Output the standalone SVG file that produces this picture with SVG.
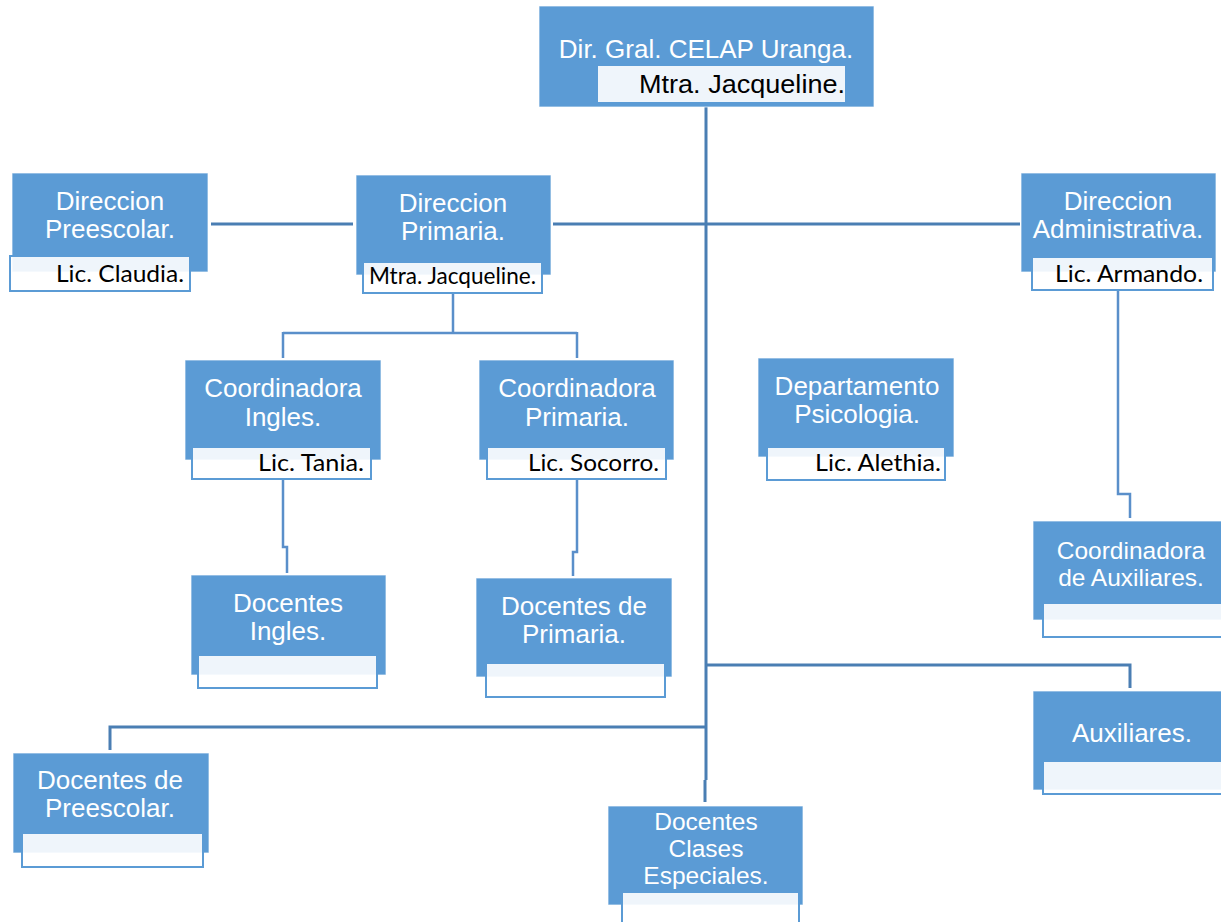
<svg xmlns="http://www.w3.org/2000/svg" width="1221" height="922" viewBox="0 0 1221 922">
<style>
.box{fill:#5B9BD5;stroke:#ffffff;stroke-opacity:0.7;stroke-width:1}
.sub{fill:#ffffff;fill-opacity:0.9;stroke:#5B9BD5;stroke-width:2}
.main{font-family:"Liberation Sans",Arial,sans-serif;font-size:26px;fill:#ffffff;text-anchor:middle}
.sm{font-size:24.5px}
.top2{font-family:"Liberation Sans",Arial,sans-serif;font-size:26px;fill:#000000;text-anchor:end}
.lbl{font-family:Lato,"Open Sans",sans-serif;font-size:23px;fill:#000000}
.c{fill:none;stroke:#4A7EB3;stroke-width:3}
.c2{fill:none;stroke:#5A8FCA;stroke-width:2.5}
</style>
<rect width="1221" height="922" fill="#ffffff"/>
<g id="connectors">
<path class="c" d="M706,107 V780 M705,780 V802"/>
<path class="c" d="M553,224 H706" stroke-width="4"/>
<path class="c" d="M706,224 H1020"/>
<path class="c" d="M211,224 H353" stroke-width="3.5"/>
<path class="c2" d="M453,293 V333 M283,333 H577 M283,332 V358 M577,332 V358"/>
<path class="c2" d="M283,480 V547 H287 V573"/>
<path class="c2" d="M577,480 V552 H573 V576"/>
<path class="c2" d="M1118,290 V494 H1130 V518"/>
<path class="c" d="M706,665 H1130 V688"/>
<path class="c" d="M706,727 H110 V750"/>
</g>
<g id="n-top">
<rect class="box" x="539" y="6" width="335" height="101"/>
<rect class="sub" x="597" y="65" width="249" height="38"/>
<text class="main" x="706" y="58">Dir. Gral. CELAP Uranga.</text>
<text class="top2" x="845" y="93" textLength="206" lengthAdjust="spacingAndGlyphs">Mtra. Jacqueline.</text>
</g>
<g id="n-preescolar">
<rect class="box" x="12" y="173" width="196" height="99"/>
<rect class="sub" x="10" y="256" width="180" height="35"/>
<text class="main" x="110" y="210">Direccion</text>
<text class="main" x="110" y="238">Preescolar.</text>
<text class="lbl" x="56" y="282" textLength="128" lengthAdjust="spacingAndGlyphs">Lic. Claudia.</text>
</g>
<g id="n-primaria">
<rect class="box" x="356" y="175" width="195" height="100"/>
<rect class="sub" x="363" y="262" width="179" height="31"/>
<text class="main" x="453" y="212">Direccion</text>
<text class="main" x="453" y="240">Primaria.</text>
<text class="lbl" x="369" y="284" font-size="20" textLength="167" lengthAdjust="spacingAndGlyphs">Mtra. Jacqueline.</text>
</g>
<g id="n-administrativa">
<rect class="box" x="1021" y="173" width="195" height="99"/>
<rect class="sub" x="1032" y="257" width="181" height="33"/>
<text class="main" x="1118" y="210">Direccion</text>
<text class="main" x="1118" y="238">Administrativa.</text>
<text class="lbl" x="1055" y="282" textLength="148" lengthAdjust="spacingAndGlyphs">Lic. Armando.</text>
</g>
<g id="n-coord-ingles">
<rect class="box" x="185" y="360" width="196" height="100"/>
<rect class="sub" x="192" y="447" width="179" height="32"/>
<text class="main" x="283" y="397">Coordinadora</text>
<text class="main" x="283" y="426">Ingles.</text>
<text class="lbl" x="258" y="471" textLength="106" lengthAdjust="spacingAndGlyphs">Lic. Tania.</text>
</g>
<g id="n-coord-primaria">
<rect class="box" x="479" y="360" width="195" height="100"/>
<rect class="sub" x="487" y="447" width="179" height="32"/>
<text class="main" x="577" y="397">Coordinadora</text>
<text class="main" x="577" y="426">Primaria.</text>
<text class="lbl" x="528" y="471" textLength="131" lengthAdjust="spacingAndGlyphs">Lic. Socorro.</text>
</g>
<g id="n-psicologia">
<rect class="box" x="758" y="358" width="196" height="99"/>
<rect class="sub" x="767" y="447" width="178" height="33"/>
<text class="main" x="857" y="395">Departamento</text>
<text class="main" x="857" y="423">Psicologia.</text>
<text class="lbl" x="815" y="471" textLength="126" lengthAdjust="spacingAndGlyphs">Lic. Alethia.</text>
</g>
<g id="n-docentes-ingles">
<rect class="box" x="191" y="575" width="195" height="100"/>
<rect class="sub" x="198" y="655" width="179" height="33"/>
<text class="main" x="288" y="612">Docentes</text>
<text class="main" x="288" y="640">Ingles.</text>
</g>
<g id="n-docentes-primaria">
<rect class="box" x="476" y="578" width="196" height="99"/>
<rect class="sub" x="486" y="663" width="179" height="34"/>
<text class="main" x="574" y="615">Docentes de</text>
<text class="main" x="574" y="643">Primaria.</text>
</g>
<g id="n-coord-auxiliares">
<rect class="box" x="1033" y="521" width="195" height="99"/>
<rect class="sub" x="1043" y="603" width="185" height="34"/>
<text class="main sm" x="1131" y="559">Coordinadora</text>
<text class="main sm" x="1131" y="586">de Auxiliares.</text>
</g>
<g id="n-auxiliares">
<rect class="box" x="1033" y="691" width="195" height="99"/>
<rect class="sub" x="1043" y="761" width="185" height="33"/>
<text class="main" x="1132" y="742">Auxiliares.</text>
</g>
<g id="n-docentes-preescolar">
<rect class="box" x="13" y="753" width="196" height="100"/>
<rect class="sub" x="22" y="833" width="181" height="34"/>
<text class="main" x="110" y="789">Docentes de</text>
<text class="main" x="110" y="817">Preescolar.</text>
</g>
<g id="n-docentes-especiales">
<rect class="box" x="608" y="806" width="195" height="99"/>
<rect class="sub" x="622" y="892" width="177" height="40"/>
<text class="main sm" x="706" y="830">Docentes</text>
<text class="main sm" x="706" y="857">Clases</text>
<text class="main sm" x="706" y="884">Especiales.</text>
</g>
</svg>
